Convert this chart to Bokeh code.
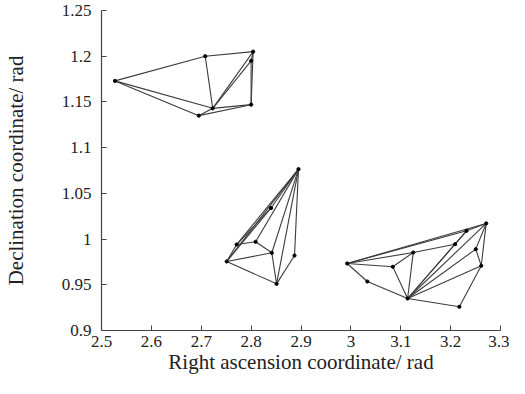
from bokeh.plotting import figure
from bokeh.models import Range1d, FixedTicker
from bokeh.embed import file_html
from bokeh.resources import INLINE

# Cluster 1 (upper left)
c1_x = [2.527, 2.708, 2.804, 2.800, 2.800, 2.723, 2.695]
c1_y = [1.173, 1.200, 1.205, 1.195, 1.147, 1.143, 1.135]
c1_edges = [(0, 1), (1, 2), (0, 5), (0, 6), (1, 5), (5, 2), (5, 3), (2, 3),
            (2, 4), (3, 4), (5, 4), (6, 4), (6, 5)]

# Cluster 2 (middle)
c2_x = [2.895, 2.840, 2.771, 2.809, 2.8415, 2.751, 2.851, 2.887]
c2_y = [1.0765, 1.034, 0.994, 0.997, 0.985, 0.9755, 0.951, 0.982]
c2_edges = [(5, 0), (2, 0), (5, 2), (2, 1), (1, 0), (5, 1), (3, 0), (3, 4),
            (2, 3), (5, 4), (4, 0), (5, 6), (6, 4), (6, 0), (6, 7), (7, 0)]

# Cluster 3 (lower right)
c3_x = [2.9925, 3.033, 3.084, 3.125, 3.1138, 3.2175, 3.2614, 3.2504, 3.2713, 3.2319, 3.209]
c3_y = [0.9733, 0.9536, 0.9697, 0.9853, 0.935, 0.9259, 0.9708, 0.989, 1.0171, 1.009, 0.9944]
c3_edges = [(0, 8), (0, 9), (0, 3), (0, 2), (0, 1), (1, 4), (2, 4), (2, 3),
            (3, 4), (3, 10), (10, 9), (4, 10), (4, 9), (4, 8), (4, 7), (4, 6),
            (4, 5), (5, 6), (6, 7), (7, 8), (6, 8), (9, 8)]

x_ticks = [2.5, 2.6, 2.7, 2.8, 2.9, 3.0, 3.1, 3.2, 3.3]
x_labels = ["2.5", "2.6", "2.7", "2.8", "2.9", "3", "3.1", "3.2", "3.3"]
y_ticks = [0.9, 0.95, 1.0, 1.05, 1.1, 1.15, 1.2, 1.25]
y_labels = ["0.9", "0.95", "1", "1.05", "1.1", "1.15", "1.2", "1.25"]

FONT = "Liberation Serif"

p = figure(width=509, height=378, output_backend="svg", toolbar_location=None,
           x_range=Range1d(2.5, 3.3), y_range=Range1d(0.9, 1.25),
           min_border_left=94, min_border_right=9, min_border_top=10, min_border_bottom=48)
p.outline_line_color = None
p.grid.visible = False
p.background_fill_color = "white"
p.border_fill_color = "white"

for xs_, ys_, edges in [(c1_x, c1_y, c1_edges), (c2_x, c2_y, c2_edges), (c3_x, c3_y, c3_edges)]:
    lx = [[xs_[a], xs_[b]] for a, b in edges]
    ly = [[ys_[a], ys_[b]] for a, b in edges]
    p.multi_line(lx, ly, line_color="#3c3c3c", line_width=1.1)
    p.scatter(xs_, ys_, size=3.2, color="black")

p.xaxis.ticker = FixedTicker(ticks=x_ticks)
p.yaxis.ticker = FixedTicker(ticks=y_ticks)
p.xaxis.major_label_overrides = {t: l for t, l in zip(x_ticks, x_labels)}
p.yaxis.major_label_overrides = {t: l for t, l in zip(y_ticks, y_labels)}

for ax in (p.xaxis, p.yaxis):
    ax.axis_line_color = "#444444"
    ax.axis_line_width = 1.2
    ax.major_tick_line_color = "#444444"
    ax.major_tick_in = 5
    ax.major_tick_out = 0
    ax.minor_tick_line_color = None
    ax.major_label_text_font = FONT
    ax.major_label_text_font_size = "17px"
    ax.major_label_text_color = "#222222"
    ax.axis_label_text_font = FONT
    ax.axis_label_text_font_size = "21px"
    ax.axis_label_text_font_style = "normal"
    ax.axis_label_text_color = "#222222"

p.xaxis.axis_label = "Right ascension coordinate/ rad"
p.yaxis.axis_label = "Declination coordinate/ rad"
p.xaxis.major_label_standoff = 5
p.yaxis.major_label_standoff = 10
p.xaxis.axis_label_standoff = 0
p.yaxis.axis_label_standoff = 31

open("out.html", "w").write(file_html(p, INLINE))
